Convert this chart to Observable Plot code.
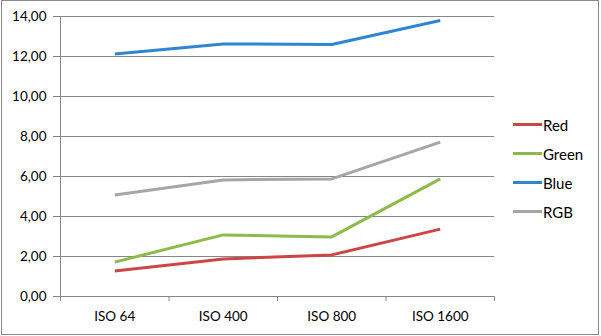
<!DOCTYPE html>
<html>
<head>
<meta charset="utf-8">
<script src="https://cdn.jsdelivr.net/npm/d3@7"></script>
<script src="https://cdn.jsdelivr.net/npm/@observablehq/plot@0.6"></script>
<style>
  html, body { margin: 0; padding: 0; background: #fff; }
  #wrap { position: relative; width: 601px; height: 336px; overflow: hidden; background: #fff; }
  #border { position: absolute; left: 1px; top: 0; width: 596px; height: 333px; border: 1px solid #8a8a8a; pointer-events: none; }
  #legend { position: absolute; left: 513px; top: 110px; font-family: Lato, sans-serif; font-size: 15px; color: #000; }
  .row { display: flex; align-items: center; height: 29px; }
  .sw { width: 29px; height: 3px; margin-right: 1px; }
  svg { position: absolute; left: 0; top: 0; }
</style>
</head>
<body>
<div id="wrap"><div id="border"></div><div id="legend"></div></div>
<script>
const categories = ["ISO 64", "ISO 400", "ISO 800", "ISO 1600"];
const seriesNames = ["Red", "Green", "Blue", "RGB"];
const red = [1.28, 1.88, 2.08, 3.37];
const green = [1.72, 3.08, 2.98, 5.88];
const blue = [12.13, 12.63, 12.60, 13.80];
const rgb = [5.08, 5.83, 5.88, 7.72];
const yTicks = [0, 2, 4, 6, 8, 10, 12, 14];
const colors = ["#CC4646", "#8DBB4A", "#2E86D0", "#A6A6A6"];

const seriesValues = [red, green, blue, rgb];
const data = seriesNames.flatMap((s, i) =>
  seriesValues[i].map((v, j) => ({series: s, idx: j, value: v}))
);
const catIdx = categories.map((c, i) => i);
const boundaries = [...catIdx.map(i => i - 0.5), categories.length - 0.5];
const grid = "#868686";

const chart = Plot.plot({
  width: 601,
  height: 336,
  marginLeft: 60,
  marginRight: 107,
  marginTop: 16,
  marginBottom: 40,
  style: {fontFamily: "Lato, sans-serif", fontSize: "13.5px", color: "#000", background: "transparent"},
  x: {type: "linear", domain: [-0.5, categories.length - 0.5], axis: null},
  y: {domain: [0, 14], axis: null},
  color: {domain: seriesNames, range: colors},
  marks: [
    Plot.ruleY(yTicks.slice(1), {stroke: grid, strokeWidth: 1}),
    Plot.axisY({ticks: yTicks, tickSize: 7, tickPadding: 7, stroke: grid, label: null,
      tickFormat: d => d.toFixed(2).replace(".", ","), fill: "#000"}),
    Plot.ruleX([-0.5], {y1: 0, y2: 14, stroke: grid}),
    Plot.ruleY([0], {stroke: grid}),
    Plot.axisX({ticks: boundaries, tickSize: 5, stroke: grid, label: null, tickFormat: () => ""}),
    Plot.axisX({ticks: catIdx, tickSize: 0, tickPadding: 15, fill: "#000", label: null,
      tickFormat: i => categories[i]}),
    Plot.line(data, {x: "idx", y: "value", z: "series", stroke: "series", strokeWidth: 3,
      strokeLinecap: "butt"})
  ]
});
document.getElementById("wrap").insertBefore(chart, document.getElementById("border"));

const legend = document.getElementById("legend");
seriesNames.forEach((s, i) => {
  const row = document.createElement("div");
  row.className = "row";
  const sw = document.createElement("div");
  sw.className = "sw";
  sw.style.background = colors[i];
  const t = document.createElement("span");
  t.textContent = s;
  row.appendChild(sw);
  row.appendChild(t);
  legend.appendChild(row);
});
</script>
</body>
</html>
